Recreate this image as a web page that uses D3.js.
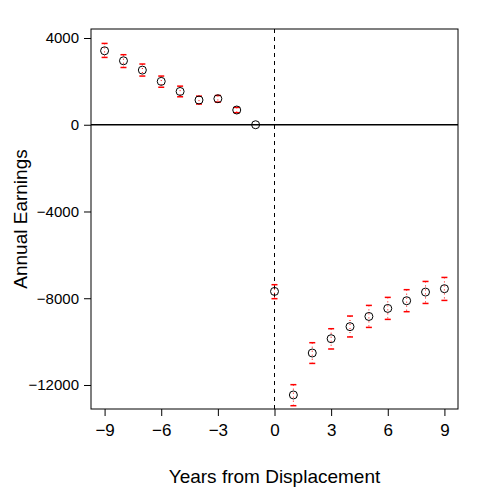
<!DOCTYPE html>
<html lang="en">
<head>
  <meta charset="UTF-8">
  <script src="https://cdn.jsdelivr.net/npm/d3@7"></script>
  <title>Annual Earnings</title>
  <style>
    body { margin: 0; background: #fff; }
    text { font-family: "Liberation Sans", Arial, sans-serif; }
  </style>
</head>
<body>
<script>
// event-study estimates
const years = [-9, -8, -7, -6, -5, -4, -3, -2, -1, 0, 1, 2, 3, 4, 5, 6, 7, 8, 9];
const estimate = [3410, 2950, 2520, 2000, 1535, 1140, 1200, 680, 0,
  -7685, -12460, -10525, -9865, -9310, -8840, -8470, -8115, -7715, -7560];
const upper = [3750, 3230, 2800, 2245, 1780, 1320, 1350, 800, 0,
  -7375, -11985, -10050, -9405, -8820, -8330, -7960, -7605, -7225, -7040];
const lower = [3105, 2640, 2245, 1730, 1290, 955, 1045, 555, 0,
  -8020, -12955, -11005, -10340, -9785, -9345, -8975, -8620, -8240, -8100];
const xTicks = [-9, -6, -3, 0, 3, 6, 9];
const yTicks = [4000, 0, -4000, -8000, -12000];

const w = 488, h = 488;
const mLeft = 91, mRight = 458, mTop = 29, mBottom = 409;

const svg = d3.select("body").append("svg")
  .attr("width", w)
  .attr("height", h);

const x = d3.scaleLinear().domain([-9.72, 9.72]).range([mLeft, mRight]);
const y = d3.scaleLinear().domain([-13107, 4415]).range([mBottom, mTop]);

const fmt = d => String(d).replace("-", "\u2212");

// axes
svg.append("g")
  .attr("transform", `translate(0,${mBottom})`)
  .call(d3.axisBottom(x).tickValues(xTicks).tickFormat(fmt).tickSize(7).tickPadding(8))
  .call(g => g.select(".domain").remove())
  .call(g => g.selectAll("text").attr("font-size", 17).attr("fill", "#000"));

svg.append("g")
  .attr("transform", `translate(${mLeft},0)`)
  .call(d3.axisLeft(y).tickValues(yTicks).tickFormat(fmt).tickSize(7).tickPadding(5))
  .call(g => g.select(".domain").remove())
  .call(g => g.selectAll("text").attr("font-size", 15).attr("fill", "#000"));

// box
svg.append("rect")
  .attr("x", mLeft).attr("y", mTop)
  .attr("width", mRight - mLeft).attr("height", mBottom - mTop)
  .attr("fill", "none").attr("stroke", "#000");

// reference lines
svg.append("line")
  .attr("x1", mLeft).attr("x2", mRight)
  .attr("y1", y(0)).attr("y2", y(0))
  .attr("stroke", "#000").attr("stroke-width", 1.3);

svg.append("line")
  .attr("x1", x(0)).attr("x2", x(0))
  .attr("y1", mTop).attr("y2", mBottom)
  .attr("stroke", "#000").attr("stroke-dasharray", "4,4");

// error bars
const bars = svg.append("g").selectAll("g")
  .data(years.map((d, i) => ({ t: d, est: estimate[i], hi: upper[i], lo: lower[i] })))
  .enter().append("g");

bars.append("line")
  .attr("x1", d => x(d.t)).attr("x2", d => x(d.t))
  .attr("y1", d => y(d.hi)).attr("y2", d => y(d.lo))
  .attr("stroke", "red").attr("stroke-dasharray", "1,3");

bars.filter(d => d.t !== -1).selectAll(".cap")
  .data(d => [{ t: d.t, v: d.hi }, { t: d.t, v: d.lo }])
  .enter().append("line")
  .attr("x1", d => x(d.t) - 3).attr("x2", d => x(d.t) + 3)
  .attr("y1", d => y(d.v)).attr("y2", d => y(d.v))
  .attr("stroke", "red").attr("stroke-width", 1.5);

bars.append("circle")
  .attr("cx", d => x(d.t)).attr("cy", d => y(d.est))
  .attr("r", 4)
  .attr("fill", "none").attr("stroke", "#000");

// axis titles
svg.append("text")
  .attr("x", (mLeft + mRight) / 2).attr("y", 483)
  .attr("text-anchor", "middle").attr("font-size", 19)
  .text("Years from Displacement");

svg.append("text")
  .attr("transform", `translate(27,${(mTop + mBottom) / 2}) rotate(-90)`)
  .attr("text-anchor", "middle").attr("font-size", 19)
  .text("Annual Earnings");
</script>
</body>
</html>
